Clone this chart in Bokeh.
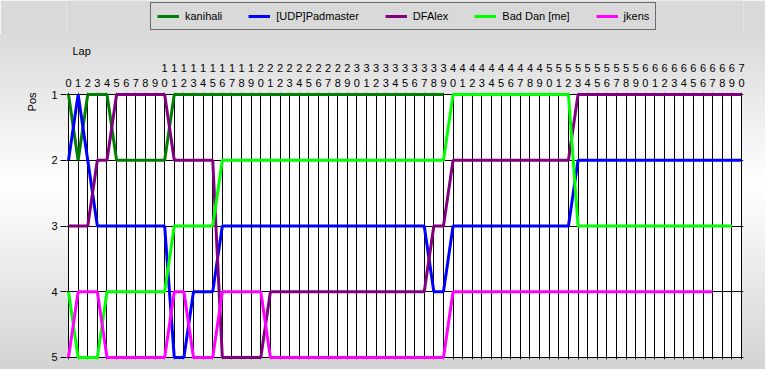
from bokeh.plotting import figure
from bokeh.models import Range1d, FixedTicker, Legend, LegendItem, Title, LinearAxis
from bokeh.layouts import column
from bokeh.embed import file_html
from bokeh.resources import INLINE

drivers = ["kanihali", "[UDP]Padmaster", "DFAlex", "Bad Dan [me]", "jkens"]
colors = ["#008000", "#0000ff", "#800080", "#00ff00", "#ff00ff"]

laps = list(range(0, 71))
pos_ticks = [1, 2, 3, 4, 5]
ones_labels = {n: str(n % 10) for n in laps}
tens_labels = {n: (str(n // 10) if n >= 10 else "") for n in laps}

kanihali = [1, 2, 1, 1, 1, 2, 2, 2, 2, 2,
            2, 1, 1, 1, 1, 1, 1, 1, 1, 1,
            1, 1, 1, 1, 1, 1, 1, 1, 1, 1,
            1, 1, 1, 1, 1, 1, 1, 1, 1, 1]
padmaster = [2, 1, 2, 3, 3, 3, 3, 3, 3, 3,
             3, 5, 5, 4, 4, 4, 3, 3, 3, 3,
             3, 3, 3, 3, 3, 3, 3, 3, 3, 3,
             3, 3, 3, 3, 3, 3, 3, 3, 4, 4,
             3, 3, 3, 3, 3, 3, 3, 3, 3, 3,
             3, 3, 3, 2, 2, 2, 2, 2, 2, 2,
             2, 2, 2, 2, 2, 2, 2, 2, 2, 2,
             2]
dfalex = [3, 3, 3, 2, 2, 1, 1, 1, 1, 1,
          1, 2, 2, 2, 2, 2, 5, 5, 5, 5,
          5, 4, 4, 4, 4, 4, 4, 4, 4, 4,
          4, 4, 4, 4, 4, 4, 4, 4, 3, 3,
          2, 2, 2, 2, 2, 2, 2, 2, 2, 2,
          2, 2, 2, 1, 1, 1, 1, 1, 1, 1,
          1, 1, 1, 1, 1, 1, 1, 1, 1, 1,
          1]
bad_dan = [4, 5, 5, 5, 4, 4, 4, 4, 4, 4,
           4, 3, 3, 3, 3, 3, 2, 2, 2, 2,
           2, 2, 2, 2, 2, 2, 2, 2, 2, 2,
           2, 2, 2, 2, 2, 2, 2, 2, 2, 2,
           1, 1, 1, 1, 1, 1, 1, 1, 1, 1,
           1, 1, 1, 3, 3, 3, 3, 3, 3, 3,
           3, 3, 3, 3, 3, 3, 3, 3, 3, 3]
jkens = [5, 4, 4, 4, 5, 5, 5, 5, 5, 5,
         5, 4, 4, 5, 5, 5, 4, 4, 4, 4,
         4, 5, 5, 5, 5, 5, 5, 5, 5, 5,
         5, 5, 5, 5, 5, 5, 5, 5, 5, 5,
         4, 4, 4, 4, 4, 4, 4, 4, 4, 4,
         4, 4, 4, 4, 4, 4, 4, 4, 4, 4,
         4, 4, 4, 4, 4, 4, 4, 4]
series = [kanihali, padmaster, dfalex, bad_dan, jkens]

FONT = "Liberation Sans"

# ---------------- main chart ----------------
p = figure(width=765, height=335, output_backend="svg", toolbar_location=None,
           title=None,
           x_range=Range1d(min(laps) - 0.21, max(laps) + 0.21),
           y_range=Range1d(max(pos_ticks) + 0.031, min(pos_ticks) - 0.031),
           x_axis_location=None,
           min_border_left=66, min_border_right=22, min_border_top=58, min_border_bottom=10,
           border_fill_alpha=0, background_fill_alpha=0, outline_line_color=None,
           styles={"background": "linear-gradient(to bottom, #dadada 0%, #ffffff 45%, #d3d3d3 100%)"})

# white plot area behind the grid
p.quad(left=min(laps), right=max(laps), top=min(pos_ticks), bottom=max(pos_ticks),
       fill_color="white", line_color=None, level="image")

p.xgrid.ticker = FixedTicker(ticks=laps)
p.ygrid.ticker = FixedTicker(ticks=pos_ticks)
for g in (p.xgrid, p.ygrid):
    g.grid_line_color = "black"
    g.grid_line_width = 1
    g.grid_line_alpha = 1


def lap_axis(labels, standoff):
    ax = LinearAxis(ticker=FixedTicker(ticks=laps), major_label_overrides=labels)
    ax.major_tick_line_color = None
    ax.minor_tick_line_color = None
    ax.axis_line_color = None
    ax.major_label_standoff = standoff
    ax.major_label_text_font = FONT
    ax.major_label_text_font_size = "11px"
    ax.major_label_text_color = "black"
    return ax


p.add_layout(lap_axis(ones_labels, 0), "above")
p.add_layout(lap_axis(tens_labels, -2), "above")

lap_title = Title(text="Lap", align="left", text_font=FONT, text_font_size="11px",
                  text_font_style="normal", text_color="black", offset=6, standoff=7)
p.add_layout(lap_title, "above")

ya = p.yaxis[0]
ya.ticker = FixedTicker(ticks=pos_ticks)
ya.major_tick_out = 6
ya.major_tick_in = 0
ya.major_tick_line_color = "black"
ya.minor_tick_line_color = None
ya.axis_line_color = None
ya.major_label_standoff = 3
ya.major_label_text_font = FONT
ya.major_label_text_font_size = "11px"
ya.major_label_text_color = "black"

pos_title = Title(text="Pos", align="right", text_font=FONT, text_font_size="11px",
                  text_font_style="normal", text_color="black", standoff=22)
p.add_layout(pos_title, "left")

for name, col, vals in zip(drivers, colors, series):
    p.line(laps[:len(vals)], vals, line_color=col, line_width=3)

# ---------------- legend strip ----------------
lg = figure(width=765, height=34, output_backend="svg", toolbar_location=None,
            title=None, x_range=Range1d(0, 1), y_range=Range1d(100, 101),
            x_axis_location=None, y_axis_location=None,
            min_border=0, border_fill_color="#d9d9d9", background_fill_color="#d9d9d9",
            outline_line_color=None)
lg.xgrid.visible = False
lg.ygrid.visible = False

items = []
for name, col, vals in zip(drivers, colors, series):
    r = lg.line(laps[:len(vals)], vals, line_color=col, line_width=3)
    items.append(LegendItem(label=name, renderers=[r]))

legend = Legend(items=items, orientation="horizontal", location=(84, 4),
                border_line_color="black", border_line_width=1,
                background_fill_alpha=0,
                label_text_font=FONT, label_text_font_size="11px", label_text_color="black",
                glyph_width=22, glyph_height=14, label_height=14,
                padding=6, spacing=26, label_standoff=6, margin=0)
lg.add_layout(legend, "center")

page = column(lg, p, spacing=0)
open("out.html", "w").write(file_html(page, INLINE))
